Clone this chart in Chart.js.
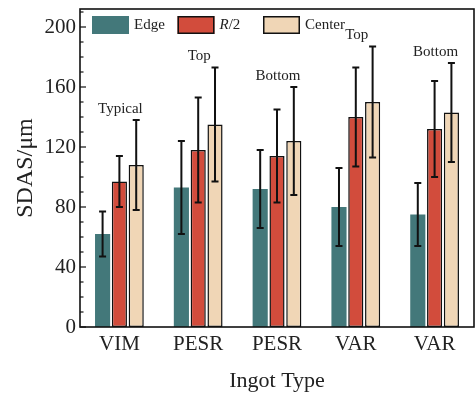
<!DOCTYPE html>
<html>
<head>
<meta charset="utf-8">
<script src="https://cdn.jsdelivr.net/npm/chart.js@4"></script>
<style>
html, body { margin: 0; padding: 0; background: #fff; }
</style>
</head>
<body>
<canvas id="chart" width="476" height="394"></canvas>
<script>
// Data
var categories = ['VIM', 'PESR', 'PESR', 'VAR', 'VAR'];
var notes = ['Typical', 'Top', 'Bottom', 'Top', 'Bottom'];
var seriesNames = ['Edge', 'R/2', 'Center'];
var edgeValues = [62, 93, 92, 80, 75];
var edgeErrors = [15, 31, 26, 26, 21];
var halfValues = [97, 118, 114, 140, 132];
var halfErrors = [17, 35, 31, 33, 32];
var centerValues = [108, 135, 124, 150, 143];
var centerErrors = [30, 38, 36, 37, 33];
var yTicks = [0, 40, 80, 120, 160, 200];

// Style
var serif = '"Liberation Serif", "Times New Roman", serif';
var colors = ['#43787a', '#d24c3c', '#f0d6b6'];
var borders = [0, 1.5, 1.5];
var errors = [edgeErrors, halfErrors, centerErrors];

// Error bars, frame, inward ticks, notes and legend
var extras = {
    id: 'extras',
    afterDatasetsDraw: function(chart) {
        var ctx = chart.ctx;
        var area = chart.chartArea;
        var y = chart.scales.y;
        var x = chart.scales.x;

        // error bars
        ctx.save();
        ctx.strokeStyle = '#111';
        ctx.lineWidth = 2;
        chart.data.datasets.forEach(function(ds, d) {
            var meta = chart.getDatasetMeta(d);
            meta.data.forEach(function(bar, i) {
                var v = ds.data[i];
                var e = errors[d][i];
                var top = y.getPixelForValue(v + e);
                var bot = y.getPixelForValue(v - e);
                ctx.beginPath();
                ctx.moveTo(bar.x, top); ctx.lineTo(bar.x, bot);
                ctx.moveTo(bar.x - 3.5, top); ctx.lineTo(bar.x + 3.5, top);
                ctx.moveTo(bar.x - 3.5, bot); ctx.lineTo(bar.x + 3.5, bot);
                ctx.stroke();
            });
        });
        ctx.restore();

        // frame
        ctx.save();
        ctx.strokeStyle = '#111';
        ctx.lineWidth = 1.6;
        ctx.strokeRect(area.left, area.top, area.right - area.left, area.bottom - area.top);

        // inward y ticks, major every 40, minor every 10
        ctx.lineWidth = 1.2;
        for (var v = 0; v <= y.max; v += 10) {
            var py = y.getPixelForValue(v);
            var len = v % 40 === 0 ? 6 : 3.5;
            ctx.beginPath();
            ctx.moveTo(area.left, py);
            ctx.lineTo(area.left + len, py);
            ctx.stroke();
        }
        ctx.restore();

        // notes above each group
        ctx.save();
        ctx.fillStyle = '#222';
        ctx.font = '15px ' + serif;
        ctx.textAlign = 'center';
        ctx.textBaseline = 'middle';
        notes.forEach(function(n, i) {
            var maxTop = 0;
            for (var d = 0; d < 3; d++) {
                var t = chart.data.datasets[d].data[i] + errors[d][i];
                if (t > maxTop) maxTop = t;
            }
            ctx.fillText(n, x.getPixelForValue(i) + 1, y.getPixelForValue(maxTop) - 11);
        });
        ctx.restore();

        // legend
        ctx.save();
        ctx.font = '15px ' + serif;
        ctx.textBaseline = 'middle';
        var lx = area.left + 12;
        var ly = area.top + 7;
        seriesNames.forEach(function(name, d) {
            var bx = lx + d * 85.5;
            ctx.fillStyle = colors[d];
            ctx.fillRect(bx, ly, 37, 18);
            if (borders[d]) {
                ctx.strokeStyle = '#111';
                ctx.lineWidth = 1.5;
                ctx.strokeRect(bx + 0.75, ly + 0.75, 35.5, 16.5);
            }
            ctx.fillStyle = '#222';
            var tx = bx + 42;
            var ty = ly + 9;
            if (name === 'R/2') {
                ctx.font = 'italic 15px ' + serif;
                ctx.fillText('R', tx, ty);
                var w = ctx.measureText('R').width;
                ctx.font = '15px ' + serif;
                ctx.fillText('/2', tx + w, ty);
            } else {
                ctx.fillText(name, tx, ty);
            }
        });
        ctx.restore();
    }
};

var datasets = [edgeValues, halfValues, centerValues].map(function(vals, d) {
    return {
        label: seriesNames[d],
        data: vals,
        backgroundColor: colors[d],
        borderColor: '#111',
        borderWidth: borders[d],
        borderSkipped: false,
        categoryPercentage: 0.64,
        barPercentage: 0.9
    };
});

var chart = new Chart(document.getElementById('chart'), {
    type: 'bar',
    data: { labels: categories, datasets: datasets },
    plugins: [extras],
    options: {
        responsive: false,
        animation: false,
        devicePixelRatio: 1,
        layout: { padding: { top: 9, right: 2, left: 0, bottom: 0 } },
        plugins: { legend: { display: false }, tooltip: { enabled: false } },
        scales: {
            x: {
                grid: { display: false, drawTicks: false },
                border: { display: false },
                ticks: { color: '#222', font: { family: serif, size: 21 }, padding: 5 },
                title: { display: true, text: 'Ingot Type', color: '#222', font: { family: serif, size: 22 }, padding: { top: 0, bottom: 0 } },
                afterFit: function(s) { s.height = 67; s.paddingLeft = 0; s.paddingRight = 0; }
            },
            y: {
                min: 0,
                max: 212,
                grid: { display: false, drawTicks: false },
                border: { display: false },
                afterBuildTicks: function(s) { s.ticks = yTicks.map(function(v) { return { value: v }; }); },
                ticks: { color: '#222', font: { family: serif, size: 21 }, padding: 4 },
                title: { display: true, text: 'SDAS/μm', color: '#222', font: { family: serif, size: 24 }, padding: { top: 11, bottom: 0 } },
                afterFit: function(s) { s.width = 80; s.paddingTop = 0; s.paddingBottom = 0; }
            }
        }
    }
});
</script>
</body>
</html>
